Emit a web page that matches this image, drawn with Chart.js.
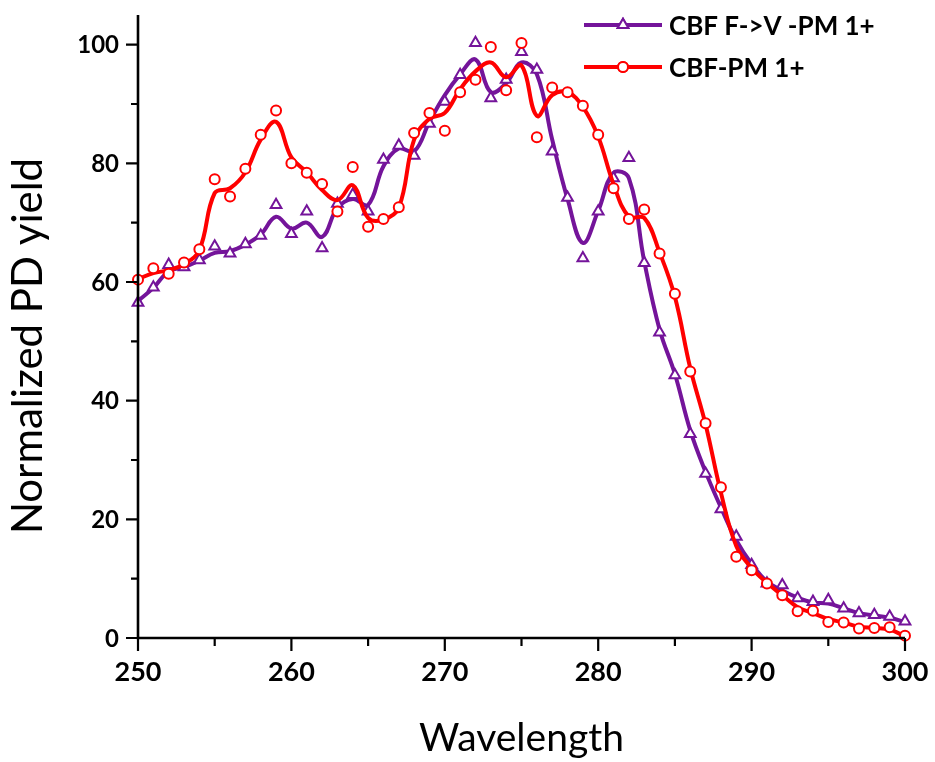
<!DOCTYPE html>
<html>
<head>
<meta charset="utf-8">
<script src="https://cdn.jsdelivr.net/npm/chart.js@4.4.1/dist/chart.umd.min.js"></script>
<style>
  html, body { margin: 0; padding: 0; background: #ffffff; }
  #wrap { width: 935px; height: 762px; position: relative; }
</style>
</head>
<body>
<div id="wrap"><canvas id="c" width="935" height="762"></canvas></div>
<script>
// ---------------- data ----------------
const wavelengths = [250,251,252,253,254,255,256,257,258,259,260,261,262,263,264,265,266,267,268,269,270,
                     271,272,273,274,275,276,277,278,279,280,281,282,283,284,285,286,287,288,289,290,
                     291,292,293,294,295,296,297,298,299,300];

const seriesNames = ['CBF F->V -PM 1+', 'CBF-PM 1+'];

// measured points (symbols)
const fvPoints = [56.5,59.1,62.9,62.5,63.7,66.0,64.8,66.4,67.8,73.0,68.1,71.9,65.7,73.2,74.7,71.9,80.6,83.0,81.3,86.7,90.4,
                  94.9,100.3,91.0,94.1,98.8,95.8,82.0,74.2,64.0,71.9,77.5,80.9,63.2,51.5,44.3,34.4,27.7,21.7,17.1,12.3,
                  9.2,8.9,6.7,6.1,6.4,5.0,4.2,3.9,3.6,2.8];
const pmPoints = [60.4,62.3,61.4,63.3,65.5,77.3,74.4,79.1,84.8,88.9,80.0,78.4,76.5,71.9,79.4,69.3,70.6,72.6,85.1,88.5,85.5,
                  92.0,94.1,99.6,92.3,100.3,84.4,92.8,92.0,89.7,84.8,75.8,70.6,72.2,64.8,58.0,44.9,36.2,25.4,13.7,11.4,
                  9.2,7.2,4.5,4.6,2.7,2.6,1.6,1.7,1.8,0.4];

// smoothed curves
const fvCurve = [56.8,59.0,61.8,62.5,63.6,64.9,65.2,66.3,68.0,71.0,69.0,70.0,67.6,72.5,74.0,73.0,79.5,82.5,82.0,87.0,91.5,
                 95.0,97.5,92.0,93.5,97.0,95.0,84.0,74.0,66.6,72.0,78.4,77.5,63.5,52.0,44.5,35.0,28.0,22.0,16.5,12.5,
                 9.5,8.0,6.8,6.0,5.8,5.0,4.2,3.8,3.4,2.7];
const pmCurve = [60.5,61.5,62.0,63.0,65.4,75.0,75.8,78.5,84.0,87.0,81.0,78.5,75.5,73.8,76.3,70.8,70.5,72.5,84.0,87.5,88.5,
                 92.5,95.5,97.0,94.5,96.5,88.0,91.5,92.0,89.5,84.5,76.5,71.0,70.8,65.0,57.5,45.5,36.0,24.5,15.5,11.8,
                 9.3,7.2,5.2,4.2,3.2,2.6,1.9,1.7,1.4,0.3];

const xTicks = [250,260,270,280,290,300];
const xMinorTicks = [255,265,275,285,295];
const yTicks = [0,20,40,60,80,100];
const yMinorTicks = [10,30,50,70,90];
const xTitle = 'Wavelength';
const yTitle = 'Normalized PD yield';

// ---------------- styling ----------------
const PURPLE = '#74149a';
const RED = '#ff0000';
const pairs = (ys) => wavelengths.map((x, i) => ({ x: x, y: ys[i] }));

const decorPlugin = {
  id: 'decor',
  afterDraw(chart) {
    const ctx = chart.ctx;
    const xs = chart.scales.x, ys = chart.scales.y;
    const ca = chart.chartArea;
    ctx.save();
    ctx.strokeStyle = '#000';
    ctx.lineWidth = 2.6;
    ctx.lineCap = 'butt';
    // axis lines
    ctx.beginPath();
    ctx.moveTo(ca.left, ca.top);
    ctx.lineTo(ca.left, ca.bottom + 1.3);
    ctx.moveTo(ca.left - 1.3, ca.bottom);
    ctx.lineTo(ca.right, ca.bottom);
    ctx.stroke();
    ctx.lineWidth = 2.2;
    // ticks (outward)
    ctx.beginPath();
    yTicks.forEach(v => { const p = ys.getPixelForValue(v); ctx.moveTo(ca.left, p); ctx.lineTo(ca.left - 12, p); });
    yMinorTicks.forEach(v => { const p = ys.getPixelForValue(v); ctx.moveTo(ca.left, p); ctx.lineTo(ca.left - 7, p); });
    xTicks.forEach(v => { const p = xs.getPixelForValue(v); ctx.moveTo(p, ca.bottom); ctx.lineTo(p, ca.bottom + 13); });
    xMinorTicks.forEach(v => { const p = xs.getPixelForValue(v); ctx.moveTo(p, ca.bottom); ctx.lineTo(p, ca.bottom + 8); });
    ctx.stroke();
    // tick labels
    ctx.fillStyle = '#000';
    ctx.font = 'bold 24px Lato';
    ctx.textAlign = 'right';
    ctx.textBaseline = 'alphabetic';
    yTicks.forEach(v => ctx.fillText(String(v), ca.left - 19, ys.getPixelForValue(v) + 8.5));
    ctx.font = 'bold 27px Lato';
    ctx.textAlign = 'center';
    xTicks.forEach(v => ctx.fillText(String(v), xs.getPixelForValue(v), ca.bottom + 43));
    // axis titles
    ctx.font = '39px Lato';
    ctx.fillText(xTitle, (ca.left + ca.right) / 2, 751);
    ctx.save();
    ctx.translate(42, 346);
    ctx.rotate(-Math.PI / 2);
    ctx.font = '42px Lato';
    ctx.fillText(yTitle, 0, 0);
    ctx.restore();
    // legend
    const items = [
      { label: chart.data.datasets[1].label, color: PURPLE, style: 'triangle', r: 6.2, y: 25 },
      { label: chart.data.datasets[3].label, color: RED, style: 'circle', r: 5, y: 67 }
    ];
    items.forEach(it => {
      ctx.strokeStyle = it.color;
      ctx.lineWidth = 4;
      ctx.beginPath();
      ctx.moveTo(584, it.y); ctx.lineTo(662, it.y);
      ctx.stroke();
      ctx.fillStyle = '#fff';
      ctx.lineWidth = 2;
      Chart.helpers.drawPoint(ctx, { pointStyle: it.style, radius: it.r, borderWidth: 2 }, 623, it.y);
      ctx.fill();
      ctx.stroke();
      ctx.fillStyle = '#000';
      ctx.font = 'bold 26px Lato';
      ctx.textAlign = 'left';
      ctx.textBaseline = 'alphabetic';
      ctx.fillText(it.label, 669, it.y + 9.5);
    });
    ctx.restore();
  }
};

new Chart(document.getElementById('c'), {
  type: 'scatter',
  data: {
    datasets: [
      { label: seriesNames[0] + ' fit', data: pairs(fvCurve), showLine: true, borderColor: PURPLE, borderWidth: 4,
        pointRadius: 0, tension: 0.4, order: 4 },
      { label: seriesNames[0], data: pairs(fvPoints), showLine: false, pointStyle: 'triangle', pointRadius: 6.2,
        borderColor: PURPLE, backgroundColor: '#ffffff', pointBorderWidth: 2, order: 3 },
      { label: seriesNames[1] + ' fit', data: pairs(pmCurve), showLine: true, borderColor: RED, borderWidth: 4,
        pointRadius: 0, tension: 0.4, order: 2 },
      { label: seriesNames[1], data: pairs(pmPoints), showLine: false, pointStyle: 'circle', pointRadius: 5,
        borderColor: RED, backgroundColor: '#ffffff', pointBorderWidth: 2, order: 1 }
    ]
  },
  options: {
    responsive: false,
    animation: false,
    clip: false,
    layout: { padding: { left: 0, right: 30, top: 15, bottom: 0 } },
    plugins: { legend: { display: false }, tooltip: { enabled: false } },
    scales: {
      x: {
        type: 'linear', min: 250, max: 300,
        grid: { display: false }, border: { display: false },
        ticks: { display: false },
        afterFit(s) { s.height = 124; }
      },
      y: {
        type: 'linear', min: 0, max: 105,
        grid: { display: false }, border: { display: false },
        ticks: { display: false },
        afterFit(s) { s.width = 138; }
      }
    }
  },
  plugins: [decorPlugin]
});
</script>
</body>
</html>
